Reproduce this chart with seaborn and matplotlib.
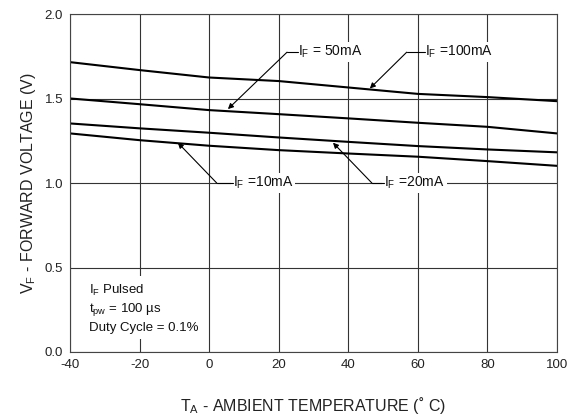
import numpy as np
import pandas as pd
import matplotlib
matplotlib.use("Agg")
import matplotlib.pyplot as plt
import seaborn as sns

# temperatures (deg C)
temps = [-40, -20, 0, 20, 40, 60, 80, 100]

# forward voltage per forward current (V)
vf_100ma = [1.716, 1.669, 1.625, 1.604, 1.566, 1.528, 1.509, 1.485]
vf_50ma = [1.501, 1.467, 1.432, 1.408, 1.383, 1.357, 1.333, 1.294]
vf_20ma = [1.353, 1.324, 1.298, 1.270, 1.244, 1.219, 1.199, 1.182]
vf_10ma = [1.294, 1.254, 1.221, 1.195, 1.175, 1.156, 1.130, 1.102]

series_names = ["100mA", "50mA", "20mA", "10mA"]
x_ticks = [-40, -20, 0, 20, 40, 60, 80, 100]
y_ticks = [0.0, 0.5, 1.0, 1.5, 2.0]

df = pd.DataFrame({
    "temp": temps * 4,
    "vf": vf_100ma + vf_50ma + vf_20ma + vf_10ma,
    "current": np.repeat(series_names, len(temps)),
})

sns.set_style("white")
plt.rcParams["font.family"] = ["Liberation Sans", "DejaVu Sans"]
plt.rcParams["mathtext.fontset"] = "custom"
plt.rcParams["mathtext.rm"] = "Liberation Sans"
plt.rcParams["mathtext.it"] = "Liberation Sans"

fig = plt.figure(figsize=(5.76, 4.17), dpi=100)
ax = fig.add_axes([0.1215, 0.156, 0.8455, 0.81])

sns.lineplot(data=df, x="temp", y="vf", units="current", estimator=None,
             color="black", linewidth=1.5, ax=ax, legend=False)

ax.set_xlim(-40, 100)
ax.set_ylim(0, 2.0)
ax.set_xticks(x_ticks)
ax.set_xticklabels([str(t) for t in x_ticks])
ax.set_yticks(y_ticks)
ax.set_yticklabels([f"{v:.1f}" for v in y_ticks])
ax.tick_params(axis="both", labelsize=9.5, colors="#222222", length=0, pad=5)
ax.grid(True, color="#333333", linewidth=0.8)
ax.set_axisbelow(True)
for s in ax.spines.values():
    s.set_color("#444444")
    s.set_linewidth(0.8)

ax.set_xlabel(r"T$_\mathrm{A}$ - AMBIENT TEMPERATURE (˚ C)", fontsize=11.5,
              color="#222222", labelpad=17)
ax.set_ylabel(r"V$_\mathrm{F}$ - FORWARD VOLTAGE (V)", fontsize=11.5,
              color="#222222", labelpad=5)

# leader labels: (text, text_pos, elbow, tip)
labels = [
    (r"I$_\mathrm{F}$ = 50mA", (25.5, 1.775), (22.4, 1.775), (5.4, 1.438)),
    (r"I$_\mathrm{F}$ =100mA", (62.0, 1.775), (56.8, 1.775), (46.2, 1.560)),
    (r"I$_\mathrm{F}$ =10mA", (6.8, 1.0), (2.2, 1.0), (-9.0, 1.239)),
    (r"I$_\mathrm{F}$ =20mA", (50.4, 1.0), (46.8, 1.0), (35.6, 1.239)),
]
for txt, tpos, elbow, tip in labels:
    ax.text(tpos[0], tpos[1], txt, fontsize=10, va="center", ha="left",
            color="#111111", zorder=3,
            bbox=dict(facecolor="white", edgecolor="none", pad=1.5))
    ax.plot([elbow[0], tpos[0]], [elbow[1], tpos[1]], color="black",
            linewidth=0.8, zorder=3)
    ax.annotate("", xy=tip, xytext=elbow,
                arrowprops=dict(arrowstyle="-|>", color="black", lw=0.8,
                                mutation_scale=8, shrinkA=0, shrinkB=0),
                zorder=3)

ax.text(-34.5, 0.26,
        "I$_\\mathrm{F}$ Pulsed\nt$_\\mathrm{pw}$ = 100 µs\nDuty Cycle = 0.1%",
        fontsize=9.5, va="center", ha="left", linespacing=1.35,
        color="#111111", zorder=3,
        bbox=dict(facecolor="white", edgecolor="none", pad=4))

fig.savefig("out.png", dpi=100)
